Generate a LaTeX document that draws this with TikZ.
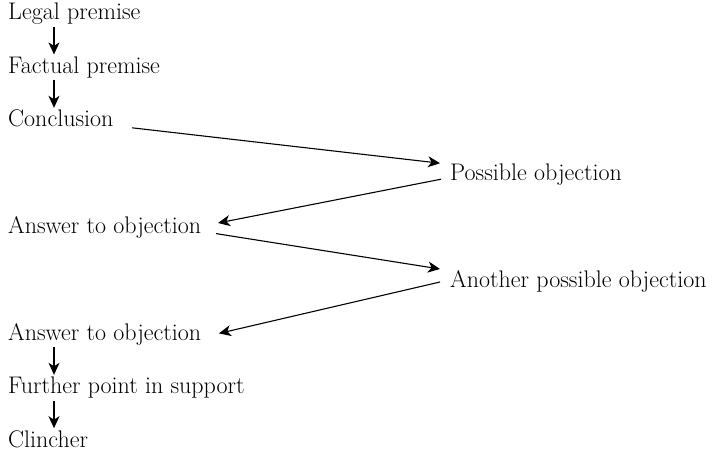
\documentclass[tikz,border=0pt]{standalone}
\usetikzlibrary{arrows.meta}
\begin{document}
\begin{tikzpicture}[x=1pt,y=-1pt,
  lbl/.style={anchor=base west,inner sep=0pt,font=\fontsize{24}{28}\selectfont},
  arr/.style={line width=1.1pt,-{Stealth[length=12pt,width=11pt,inset=3.5pt]}}]
\useasboundingbox (0,0) rectangle (714,452);
\node[lbl] (legal) at (8,20) {Legal premise};
\node[lbl] (fact) at (8,73.4) {Factual premise};
\node[lbl] (conc) at (8,126.8) {Conclusion};
\node[lbl] (poss) at (450,180.2) {Possible objection};
\node[lbl] (ans1) at (8,233.6) {Answer to objection};
\node[lbl] (anot) at (450,287) {Another possible objection};
\node[lbl] (ans2) at (8,340.4) {Answer to objection};
\node[lbl] (furt) at (8,393.8) {Further point in support};
\node[lbl] (clin) at (8,447.2) {Clincher};
\draw[arr] ([shift={(46,7)}]legal.base west) -- ([shift={(46,-19)}]fact.base west);
\draw[arr] ([shift={(46,7)}]fact.base west) -- ([shift={(46,-19)}]conc.base west);
\draw[arr] ([shift={(124,1)}]conc.base west) -- ([shift={(-10,-17)}]poss.base west);
\draw[arr] ([shift={(-9,-1)}]poss.base west) -- ([shift={(210,-10.6)}]ans1.base west);
\draw[arr] ([shift={(208,0)}]ans1.base west) -- ([shift={(-10,-18)}]anot.base west);
\draw[arr] ([shift={(-10,-5)}]anot.base west) -- ([shift={(211,-7)}]ans2.base west);
\draw[arr] ([shift={(46,7)}]ans2.base west) -- ([shift={(46,-19)}]furt.base west);
\draw[arr] ([shift={(46,7)}]furt.base west) -- ([shift={(46,-19)}]clin.base west);
\end{tikzpicture}
\end{document}
